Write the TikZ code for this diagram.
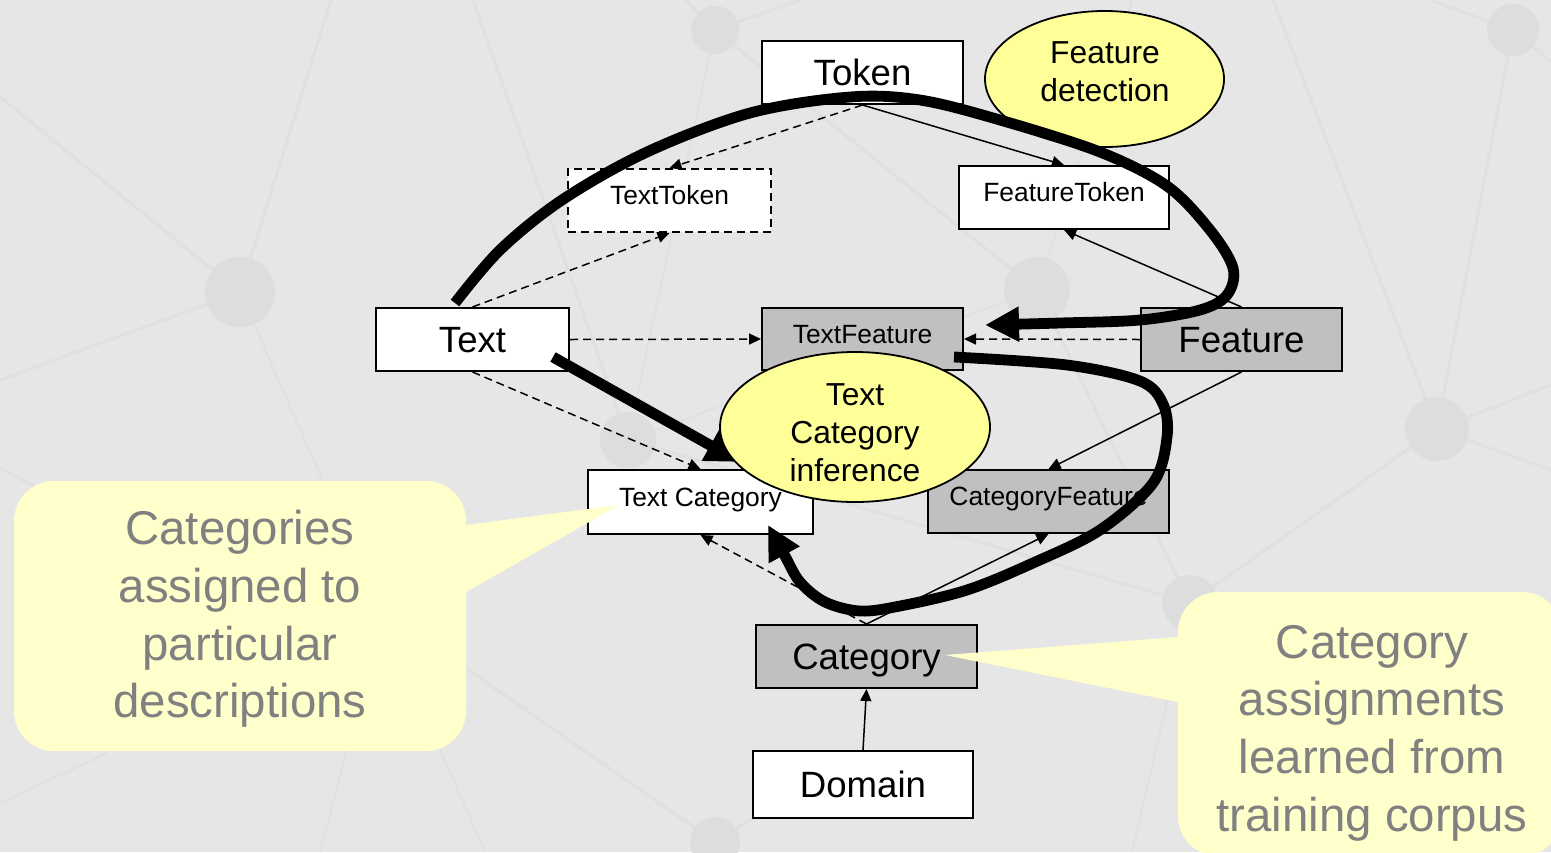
\documentclass[tikz,border=0pt]{standalone}
\usepackage{fontspec}
\setmainfont{Liberation Sans}
\usetikzlibrary{arrows.meta,shapes.geometric}

\definecolor{bgfill}{RGB}{230,230,230}
\definecolor{netline}{RGB}{223,225,224}
\definecolor{hubfill}{RGB}{220,222,221}
\definecolor{boxgray}{RGB}{192,192,192}
\definecolor{bubble}{RGB}{255,255,153}
\definecolor{notefill}{RGB}{255,255,204}
\definecolor{notetext}{RGB}{128,128,128}

\begin{document}
\begin{tikzpicture}[x=0.5pt,y=-0.5pt,
  net/.style={draw=netline,line width=1.6pt},
  netthin/.style={draw=netline,line width=0.9pt},
  hub/.style={fill=hubfill},
  box/.style={draw=black,line width=1pt,inner sep=0pt,minimum height=31.5pt},
  bigbox/.style={box,font=\fontsize{18.3pt}{22pt}\selectfont,text height=13.1pt,text depth=0pt},
  midbox/.style={box,font=\fontsize{13.2pt}{16pt}\selectfont,text height=9.45pt,text depth=5pt},
  dashedbox/.style={dash pattern=on 4pt off 2.5pt},
  bubblenode/.style={ellipse,draw=black,line width=0.9pt,fill=bubble,inner sep=0pt},
  bubbletext/.style={align=center,inner sep=0pt,font=\fontsize{15.9pt}{19pt}\selectfont},
  link/.style={line width=0.75pt,-{Triangle[length=6pt,width=5.5pt]}},
  dlink/.style={link,dash pattern=on 4pt off 2.5pt},
  flow/.style={line width=5.4pt,-{Triangle[length=17pt,width=16.5pt]}},
  notebody/.style={fill=notefill},
  notelabel/.style={align=center,inner sep=0pt,text=notetext,font=\fontsize{23.7pt}{28.8pt}\selectfont}
]
\useasboundingbox (0,0) rectangle (1551,852);
\fill[bgfill] (0,0) rectangle (1551,852);

% faint network pattern in the backdrop
\begin{scope}
\clip (0,0) rectangle (1551,852);
\coordinate (hA) at (240,292);
\coordinate (hB) at (715,30);
\coordinate (hC) at (1037,290);
\coordinate (hD) at (1437,429);
\coordinate (hE) at (1513,30);
\coordinate (hF) at (1190,603);
\coordinate (hG) at (715,842);
\coordinate (hH) at (628,440);
\draw[net] (0,97) -- (hA) -- (0,380);
\draw[net] (hA) -- (331,0);
\draw[netthin] (hA) -- (485,852);
\draw[net] (473,0) -- (hH);
\draw[net] (686,0) -- (hB) -- (800,0);
\draw[netthin] (hB) -- (hH);
\draw[net] (hB) -- (hC) -- (hF);
\draw[netthin] (hC) -- (1132,0);
\draw[netthin] (hC) -- (hH);
\draw[net] (1273,0) -- (hD) -- (hE);
\draw[net] (1551,385) -- (hD) -- (1551,470);
\draw[net] (hD) -- (hF);
\draw[net] (1551,62) -- (hE) -- (1430,0);
\draw[net] (hF) -- (hH);
\draw[netthin] (hF) -- (1132,852);
\draw[net] (380,608) -- (hG) -- (790,795);
\draw[netthin] (360,700) -- (320,852);
\draw[netthin] (107,753) -- (0,803);
\draw[net] (0,468) -- (60,500);
\fill[hub] (hA) circle[radius=35];
\fill[hub] (hB) circle[radius=24];
\fill[hub] (hC) circle[radius=33];
\fill[hub] (hD) circle[radius=32];
\fill[hub] (hE) circle[radius=26];
\fill[hub] (hF) circle[radius=28];
\fill[hub] (hG) circle[radius=25];
\fill[hub] (hH) circle[radius=28];
\end{scope}

% entity boxes
\node[bigbox,fill=white,minimum width=100.5pt] (token) at (862.5,72.5) {Token};
\node[midbox,fill=white,dashedbox,minimum width=101.5pt] (texttoken) at (669.5,200.5) {TextToken};
\node[midbox,fill=white,minimum width=105pt] (feattoken) at (1064,197.5) {FeatureToken};
\node[bigbox,fill=white,minimum width=96.5pt] (text) at (472.5,339.5) {Text};
\node[midbox,fill=boxgray,minimum width=100.5pt,minimum height=31pt] (textfeat) at (862.5,339) {TextFeature};
\node[bigbox,fill=boxgray,minimum width=100.5pt] (feature) at (1241.5,339.5) {Feature};
\node[midbox,fill=white,minimum width=112.5pt,minimum height=32pt] (textcat) at (700.5,502) {Text Category};
\node[midbox,fill=boxgray,minimum width=120.5pt] (catfeat) at (1048.5,501.5) {CategoryFeature};
\node[bigbox,fill=boxgray,minimum width=110.5pt] (category) at (866.5,656.5) {Category};
\node[bigbox,fill=white,minimum width=110pt,minimum height=33.5pt] (domain) at (863,784.5) {Domain};

% relations between the entities
\draw[dlink] (token.south) -- (texttoken.north);
\draw[dlink] (text.north) -- (texttoken.south);
\draw[link] (token.south) -- (feattoken.north);
\draw[link] (feature.north) -- (feattoken.south);
\draw[dlink] (text.east) -- (textfeat.west);
\draw[dlink] (feature.west) -- (textfeat.east);
\draw[dlink] (text.south) -- (textcat.north);
\draw[link] (feature.south) -- (catfeat.north);
\draw[dlink] (category.north) -- (textcat.south);
\draw[link] (category.north) -- (catfeat.south);
\draw[link] (domain.north) -- (category.south);

% processing steps
\node[bubblenode,minimum width=119.5pt,minimum height=68pt] (detect) at (1104.5,79) {};
\node[bubbletext] (detectlabel) at (1105,71.5) {Feature\\detection};

\coordinate (detectStart) at (455,303);
\coordinate (detectEnd) at (985,325);
\draw[flow] plot[smooth,tension=0.55] coordinates {(detectStart) (500,250) (562,200) (647,152) (750,113) (850,97) (920,100) (1000,120) (1100,152) (1167,186) (1210,230) (1233,268) (1227,295) (1200,310) (1140,320) (1060,323) (detectEnd)};

\coordinate (inferStart) at (553,357);
\coordinate (inferEnd) at (740,462);
\draw[flow] (inferStart) -- (inferEnd);

\coordinate (assignStart) at (954,357);
\coordinate (assignEnd) at (768,525);
\draw[flow] plot[smooth,tension=0.55] coordinates {(assignStart) (1067,365) (1140,381) (1163,404) (1167,437) (1153,483) (1100,530) (1033,563) (967,590) (900,606) (860,611) (825,602) (800,582) (785,556) (assignEnd)};

\node[bubblenode,minimum width=135pt,minimum height=75pt] (infer) at (855,427) {};
\node[bubbletext] (inferlabel) at (855,433) {Text\\Category\\inference};

% explanatory notes
\fill[notebody] (466,592) [rounded corners=20pt] -- (466,751) -- (14,751) -- (14,481) -- (466,481) [sharp corners] -- (466,525) -- (619,505) -- cycle;
\node[notelabel] (leftnote) at (240,619) {Categories\\assigned to\\particular\\descriptions};

\fill[notebody] (1178,637) [rounded corners=20pt] -- (1178,592) -- (1562,592) -- (1562,856) -- (1178,856) [sharp corners] -- (1178,702) -- (945,655) -- cycle;
\node[notelabel] (rightnote) at (1372,733) {Category\\assignments\\learned from\\training corpus};
\end{tikzpicture}
\end{document}
